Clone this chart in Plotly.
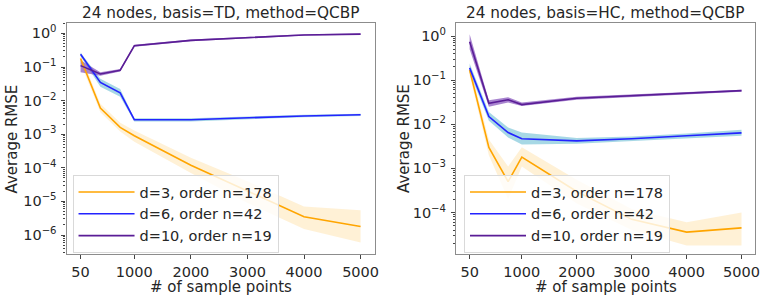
import plotly.graph_objects as go

# ---------------- data ----------------
samples = [50, 400, 750, 1000, 2000, 3000, 4000, 5000]
x_ticks = [50, 1000, 2000, 3000, 4000, 5000]
series_names = ["d=3, order n=178", "d=6, order n=42", "d=10, order n=19"]

# basis = TD
td_d3_mean = [0.18, 0.006, 0.0016, 0.0009, 0.00012, 0.00002, 0.0000035, 0.0000018]
td_d3_low = [0.13, 0.0045, 0.0012, 0.0006, 0.00007, 0.000009, 0.0000015, 0.0000006]
td_d3_high = [0.24, 0.008, 0.0022, 0.0013, 0.0002, 0.00004, 0.000007, 0.0000055]

td_d6_mean = [0.24, 0.035, 0.017, 0.0027, 0.0027, 0.0031, 0.0035, 0.0038]
td_d6_low = [0.21, 0.026, 0.013, 0.0024, 0.0024, 0.0028, 0.0032, 0.0035]
td_d6_high = [0.27, 0.045, 0.022, 0.0030, 0.0030, 0.0034, 0.0038, 0.0041]

td_d10_mean = [0.11, 0.062, 0.08, 0.43, 0.62, 0.75, 0.9, 0.95]
td_d10_low = [0.07, 0.055, 0.074, 0.40, 0.58, 0.71, 0.86, 0.91]
td_d10_high = [0.16, 0.07, 0.087, 0.46, 0.66, 0.79, 0.94, 0.99]

# basis = HC
hc_d3_mean = [0.17, 0.003, 0.0005, 0.0018, 0.0003, 0.00007, 0.000036, 0.000045]
hc_d3_low = [0.13, 0.002, 0.0002, 0.0011, 0.00016, 0.00004, 0.000018, 0.000018]
hc_d3_high = [0.22, 0.0045, 0.0011, 0.003, 0.00055, 0.00012, 0.00006, 0.0001]

hc_d6_mean = [0.19, 0.015, 0.0065, 0.0047, 0.0042, 0.0047, 0.0055, 0.0064]
hc_d6_low = [0.15, 0.012, 0.005, 0.0035, 0.0036, 0.0041, 0.0048, 0.0055]
hc_d6_high = [0.24, 0.019, 0.0085, 0.0065, 0.0049, 0.0053, 0.0062, 0.0075]

hc_d10_mean = [0.74, 0.03, 0.036, 0.028, 0.039, 0.045, 0.051, 0.058]
hc_d10_low = [0.5, 0.025, 0.031, 0.026, 0.036, 0.042, 0.048, 0.055]
hc_d10_high = [1.1, 0.035, 0.041, 0.031, 0.042, 0.048, 0.054, 0.061]

titles = ["24 nodes, basis=TD, method=QCBP", "24 nodes, basis=HC, method=QCBP"]
y_tick_exps_td = [0, -1, -2, -3, -4, -5, -6]
y_tick_exps_hc = [0, -1, -2, -3, -4]

# ---------------- style ----------------
line_colors = ["#ffa500", "#2323ff", "#5a1d96"]
band_colors = ["rgba(255,165,0,0.16)", "rgba(120,195,215,0.65)", "rgba(110,50,175,0.6)"]
font_family = "DejaVu Sans"
txt = "#262626"

W, H = 779, 302
top_px, bot_px = 23, 254
panels = [
    dict(x0=67, x1=377, yr=[-6.565, 0.31], exps=y_tick_exps_td,
         data=[(td_d3_mean, td_d3_low, td_d3_high), (td_d6_mean, td_d6_low, td_d6_high),
               (td_d10_mean, td_d10_low, td_d10_high)],
         leg=(73, 175), ylab_x=12),
    dict(x0=459, x1=760, yr=[-4.94, 0.296], exps=y_tick_exps_hc,
         data=[(hc_d3_mean, hc_d3_low, hc_d3_high), (hc_d6_mean, hc_d6_low, hc_d6_high),
               (hc_d10_mean, hc_d10_low, hc_d10_high)],
         leg=(467, 175), ylab_x=406),
]

fig = go.Figure()
layout = dict(width=W, height=H, margin=dict(l=0, r=0, t=0, b=0),
              paper_bgcolor="white", plot_bgcolor="white",
              font=dict(family=font_family, size=14, color=txt), annotations=[])

for i, p in enumerate(panels):
    xa = "x" if i == 0 else "x2"
    ya = "y" if i == 0 else "y2"
    legname = "legend" if i == 0 else "legend2"
    for k, (m, lo, hi) in enumerate(p["data"]):
        fig.add_trace(go.Scatter(x=samples, y=hi, mode="lines", line=dict(width=0),
                                 showlegend=False, hoverinfo="skip", xaxis=xa, yaxis=ya))
        fig.add_trace(go.Scatter(x=samples, y=lo, mode="lines", line=dict(width=0),
                                 fill="tonexty", fillcolor=band_colors[k],
                                 showlegend=False, hoverinfo="skip", xaxis=xa, yaxis=ya))
    for k, (m, lo, hi) in enumerate(p["data"]):
        fig.add_trace(go.Scatter(x=samples, y=m, mode="lines", name=series_names[k],
                                 line=dict(color=line_colors[k], width=1.6),
                                 xaxis=xa, yaxis=ya, legend=legname))

    xd = [p["x0"] / W, p["x1"] / W]
    yd = [(H - bot_px) / H, (H - top_px) / H]
    axis_common = dict(showline=True, mirror=True, linecolor="#8c8c8c", linewidth=1.2,
                       showgrid=False, zeroline=False, ticks="outside", ticklen=4,
                       tickwidth=1, tickcolor="#444", tickfont=dict(size=14.5, color=txt))
    layout["xaxis" if i == 0 else "xaxis2"] = dict(
        domain=xd, range=[-197.5, 5247.5], tickvals=x_ticks,
        ticktext=[str(v) for v in x_ticks], anchor=ya, **axis_common)
    layout["yaxis" if i == 0 else "yaxis2"] = dict(
        domain=yd, type="log", range=p["yr"],
        tickvals=[10 ** e for e in p["exps"]],
        ticktext=["10<sup>%s</sup>" % (str(e).replace("-", "\u2212")) for e in p["exps"]],
        minor=dict(ticks="outside", ticklen=2, tickcolor="#444", dtick="D1", showgrid=False),
        anchor=xa, ticklabelstandoff=2, **axis_common)

    lx, ly = p["leg"]
    layout[legname] = dict(x=lx / W, y=(H - ly) / H, xanchor="left", yanchor="top",
                           bgcolor="rgba(255,255,255,0.8)", bordercolor="#d9d9d9",
                           borderwidth=1, font=dict(size=14.5, color=txt),
                           traceorder="normal", tracegroupgap=0, itemwidth=56)

    cx = (p["x0"] + p["x1"]) / 2 / W
    layout["annotations"] += [
        dict(text=titles[i], x=cx, y=(H - 13) / H, xref="paper", yref="paper",
             showarrow=False, xanchor="center", yanchor="middle",
             font=dict(size=15.3, color=txt)),
        dict(text="# of sample points", x=cx, y=(H - 287) / H, xref="paper", yref="paper",
             showarrow=False, xanchor="center", yanchor="middle",
             font=dict(size=15, color=txt)),
        dict(text="Average RMSE", x=p["ylab_x"] / W, y=(yd[0] + yd[1]) / 2,
             xref="paper", yref="paper", showarrow=False, textangle=-90,
             xanchor="center", yanchor="middle", font=dict(size=15, color=txt)),
    ]

fig.update_layout(**layout)
fig.write_html("out.html")
